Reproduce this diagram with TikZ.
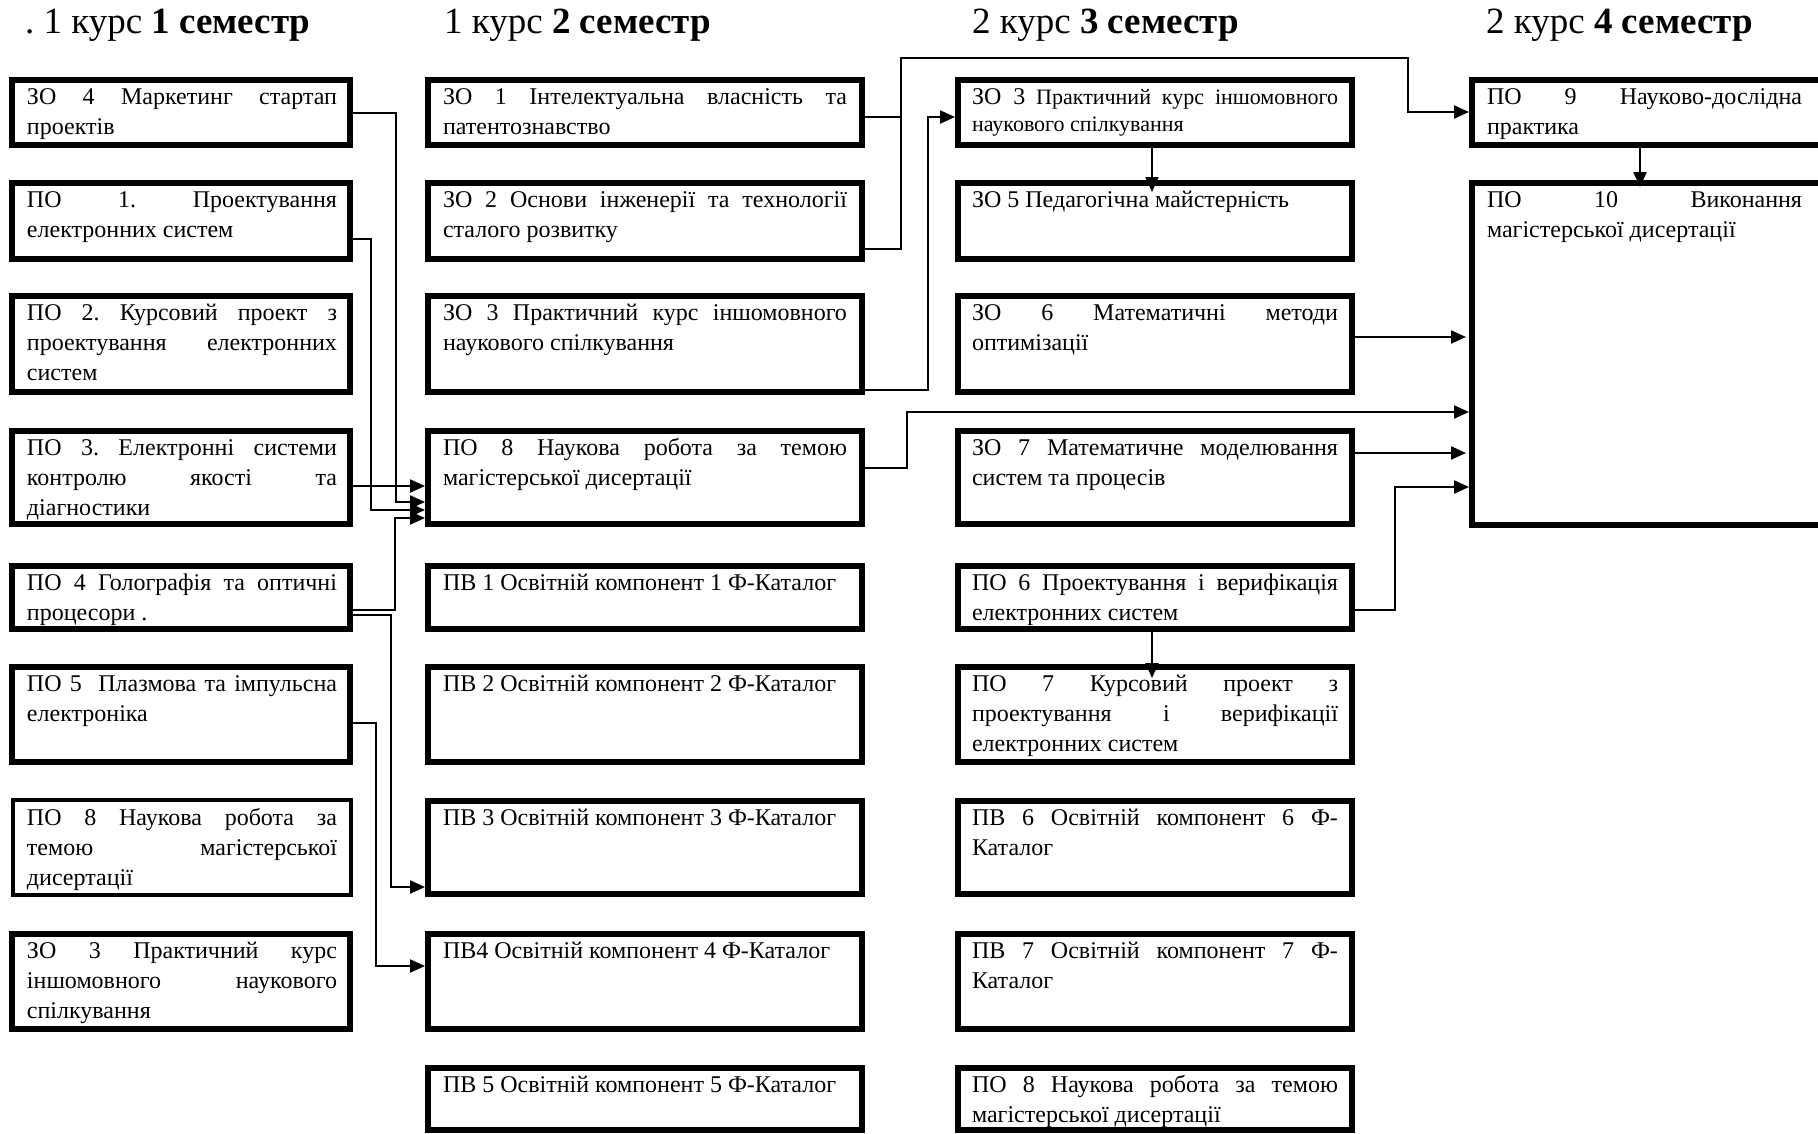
\documentclass[tikz,border=0pt]{standalone}
\usepackage{fontspec}
\setmainfont{Liberation Serif}
\usetikzlibrary{arrows.meta}
\hyphenpenalty=10000
\exhyphenpenalty=10000
\tolerance=10000
\frenchspacing
\begin{document}
\begin{tikzpicture}[x=1pt,y=-1pt,
  box/.style={draw,line width=6pt,rectangle,inner sep=0pt},
  txt/.style={anchor=base west,inner sep=0pt,outer sep=0pt,align=justify,
     font=\fontsize{24}{30}\selectfont\frenchspacing},
  ttl/.style={anchor=base west,inner sep=0pt,font=\fontsize{37}{44}\selectfont},
  conn/.style={line width=2.2pt},
  arr/.style={conn,-{Triangle[length=15pt,width=13pt]}}]
\fill[white] (0,0) rectangle (1818,1133);
\useasboundingbox (0,0) rectangle (1818,1133);

% titles
\node[ttl] (h1) at (25,33) {. 1 курс \textbf{1 семестр}};
\node[ttl] (h2) at (444,33) {1 курс \textbf{2 семестр}};
\node[ttl] (h3) at (972,33) {2 курс \textbf{3 семестр}};
\node[ttl] (h4) at (1486,33) {2 курс \textbf{4 семестр}};

% column 1 boxes
\node[box,minimum width=338pt,minimum height=65pt] (c1r1) at (181,112.5) {};
\node[box,minimum width=338pt,minimum height=76pt] (c1r2) at (181,221) {};
\node[box,minimum width=338pt,minimum height=96pt] (c1r3) at (181,344) {};
\node[box,minimum width=338pt,minimum height=93pt] (c1r4) at (181,477.5) {};
\node[box,minimum width=338pt,minimum height=63pt] (c1r5) at (181,597.5) {};
\node[box,minimum width=338pt,minimum height=95pt] (c1r6) at (181,714.5) {};
\node[box,line width=4.5pt,minimum width=338pt,minimum height=95pt] (c1r7) at (182,847.5) {};
\node[box,minimum width=338pt,minimum height=95pt] (c1r8) at (181,981.5) {};

% column 2 boxes
\node[box,minimum width=434pt,minimum height=65pt] (c2r1) at (645,112.5) {};
\node[box,minimum width=434pt,minimum height=76pt] (c2r2) at (645,221) {};
\node[box,minimum width=434pt,minimum height=96pt] (c2r3) at (645,344) {};
\node[box,minimum width=434pt,minimum height=93pt] (c2r4) at (645,477.5) {};
\node[box,minimum width=434pt,minimum height=63pt] (c2r5) at (645,597.5) {};
\node[box,minimum width=434pt,minimum height=95pt] (c2r6) at (645,714.5) {};
\node[box,minimum width=434pt,minimum height=93pt] (c2r7) at (645,847.5) {};
\node[box,minimum width=434pt,minimum height=95pt] (c2r8) at (645,981.5) {};
\node[box,minimum width=434pt,minimum height=62pt] (c2r9) at (645,1099) {};

% column 3 boxes
\node[box,minimum width=394pt,minimum height=65pt] (c3r1) at (1155,112.5) {};
\node[box,minimum width=394pt,minimum height=76pt] (c3r2) at (1155,221) {};
\node[box,minimum width=394pt,minimum height=96pt] (c3r3) at (1155,344) {};
\node[box,minimum width=394pt,minimum height=93pt] (c3r4) at (1155,477.5) {};
\node[box,minimum width=394pt,minimum height=63pt] (c3r5) at (1155,597.5) {};
\node[box,minimum width=394pt,minimum height=95pt] (c3r6) at (1155,714.5) {};
\node[box,minimum width=394pt,minimum height=93pt] (c3r7) at (1155,847.5) {};
\node[box,minimum width=394pt,minimum height=95pt] (c3r8) at (1155,981.5) {};
\node[box,minimum width=394pt,minimum height=62pt] (c3r9) at (1155,1099) {};

% column 4 boxes
\node[box,minimum width=350pt,minimum height=65pt] (c4r1) at (1647,112.5) {};
\node[box,minimum width=350pt,minimum height=342pt] (c4r2) at (1647,354) {};

% column 1 texts
\node[txt,text width=310pt] (t11) at (27,104) {ЗО 4 Маркетинг стартап\linebreak проектів};
\node[txt,text width=310pt] (t12) at (27,207) {ПО 1. Проектування\linebreak електронних систем};
\node[txt,text width=310pt] (t13) at (27,320) {ПО 2. Курсовий проект з\linebreak проектування електронних\linebreak систем};
\node[txt,text width=310pt] (t14) at (27,455) {ПО 3. Електронні системи\linebreak контролю якості та\linebreak діагностики};
\node[txt,text width=310pt] (t15) at (27,590) {ПО 4 Голографія та оптичні\linebreak процесори .};
\node[txt,text width=310pt] (t16) at (27,691) {ПО 5\ \ Плазмова та імпульсна\linebreak електроніка};
\node[txt,text width=310pt] (t17) at (27,825) {ПО 8 Наукова робота за\linebreak темою магістерської\linebreak дисертації};
\node[txt,text width=310pt] (t18) at (27,958) {ЗО 3 Практичний курс\linebreak іншомовного наукового\linebreak спілкування};

% column 2 texts
\node[txt,text width=404pt] (t21) at (443,104) {ЗО 1 Інтелектуальна власність та\linebreak патентознавство};
\node[txt,text width=404pt] (t22) at (443,207) {ЗО 2 Основи інженерії та технології\linebreak сталого розвитку};
\node[txt,text width=404pt] (t23) at (443,320) {ЗО 3 Практичний курс іншомовного\linebreak наукового спілкування};
\node[txt,text width=404pt] (t24) at (443,455) {ПО 8 Наукова робота за темою\linebreak магістерської дисертації};
\node[txt,text width=404pt] (t25) at (443,590) {ПВ 1 Освітній компонент 1 Ф-Каталог};
\node[txt,text width=404pt] (t26) at (443,691) {ПВ 2 Освітній компонент 2 Ф-Каталог};
\node[txt,text width=404pt] (t27) at (443,825) {ПВ 3 Освітній компонент 3 Ф-Каталог};
\node[txt,text width=404pt] (t28) at (443,958) {ПВ4 Освітній компонент 4 Ф-Каталог};
\node[txt,text width=404pt] (t29) at (443,1092) {ПВ 5 Освітній компонент 5 Ф-Каталог};

% column 3 texts
\node[txt,text width=366pt,font=\fontsize{22}{27}\selectfont\frenchspacing] (t31) at (972,104) {{\fontsize{24}{27}\selectfont ЗО 3} Практичний курс іншомовного\linebreak наукового спілкування};
\node[txt,text width=366pt] (t32) at (972,207) {ЗО 5 Педагогічна майстерність};
\node[txt,text width=366pt] (t33) at (972,320) {ЗО 6 Математичні методи\linebreak оптимізації};
\node[txt,text width=366pt] (t34) at (972,455) {ЗО 7 Математичне моделювання\linebreak систем та процесів};
\node[txt,text width=366pt] (t35) at (972,590) {ПО 6 Проектування і верифікація\linebreak електронних систем};
\node[txt,text width=366pt] (t36) at (972,691) {ПО 7 Курсовий проект з\linebreak проектування і верифікації\linebreak електронних систем};
\node[txt,text width=366pt] (t37) at (972,825) {ПВ 6 Освітній компонент 6 Ф-\linebreak Каталог};
\node[txt,text width=366pt] (t38) at (972,958) {ПВ 7 Освітній компонент 7 Ф-\linebreak Каталог};
\node[txt,text width=366pt] (t39) at (972,1092) {ПО 8 Наукова робота за темою\linebreak магістерської дисертації};

% column 4 texts
\node[txt,text width=315pt] (t41) at (1487,104) {ПО 9 Науково-дослідна\linebreak практика};
\node[txt,text width=315pt] (t42) at (1487,207) {ПО 10 Виконання\linebreak магістерської дисертації};

% bend coordinates
\coordinate (ka0) at (396,113);  \coordinate (ka1) at (396,502);
\coordinate (kb0) at (371,239);  \coordinate (kb1) at (371,510);
\coordinate (kc)  at (390,486);
\coordinate (kd0) at (395,610);  \coordinate (kd1) at (395,518);
\coordinate (ke0) at (391,615);  \coordinate (ke1) at (391,887);
\coordinate (kf0) at (376,723);  \coordinate (kf1) at (376,966);
\coordinate (kg0) at (901,117);
\coordinate (kg1) at (901,249);  \coordinate (kg2) at (901,58);
\coordinate (kg3) at (1408,58);  \coordinate (kg4) at (1408,112);
\coordinate (kh0) at (928,390);  \coordinate (kh1) at (928,117);
\coordinate (ki)  at (1152,192);
\coordinate (kj)  at (1400,337);
\coordinate (kk0) at (907,468);  \coordinate (kk1) at (907,412);
\coordinate (kl)  at (1400,453);
\coordinate (km0) at (1395,610); \coordinate (km1) at (1395,487);
\coordinate (kn)  at (1152,678);
\coordinate (ko)  at (1640,187);

% connectors column 1 -> column 2
\draw[arr] (ka0 -| c1r1.east) -- (ka0) -- (ka1) -- (ka1 -| c2r4.west);
\draw[arr] (kb0 -| c1r2.east) -- (kb0) -- (kb1) -- (kb1 -| c2r4.west);
\draw[arr] (kc -| c1r4.east) -- (kc -| c2r4.west);
\draw[arr] (kd0 -| c1r5.east) -- (kd0) -- (kd1) -- (kd1 -| c2r4.west);
\draw[arr] (ke0 -| c1r5.east) -- (ke0) -- (ke1) -- (ke1 -| c2r7.west);
\draw[arr] (kf0 -| c1r6.east) -- (kf0) -- (kf1) -- (kf1 -| c2r8.west);

% connectors column 2 -> columns 3, 4
\draw[conn] (kg0 -| c2r1.east) -- (kg0);
\draw[arr] (kg1 -| c2r2.east) -- (kg1) -- (kg2) -- (kg3) -- (kg4) -- (kg4 -| c4r1.west);
\draw[arr] (kh0 -| c2r3.east) -- (kh0) -- (kh1) -- (kh1 -| c3r1.west);
\draw[arr] (kk0 -| c2r4.east) -- (kk0) -- (kk1) -- (kk1 -| c4r2.west);

% connectors in column 3 and to column 4
\draw[arr] (ki |- c3r1.south) -- (ki);
\draw[arr] (kj -| c3r3.east) -- ([xshift=-3pt]kj -| c4r2.west);
\draw[arr] (kl -| c3r4.east) -- ([xshift=-3pt]kl -| c4r2.west);
\draw[arr] (km0 -| c3r5.east) -- (km0) -- (km1) -- (km1 -| c4r2.west);
\draw[arr] (kn |- c3r5.south) -- (kn);
\draw[arr] (ko |- c4r1.south) -- (ko);
\end{tikzpicture}
\end{document}
